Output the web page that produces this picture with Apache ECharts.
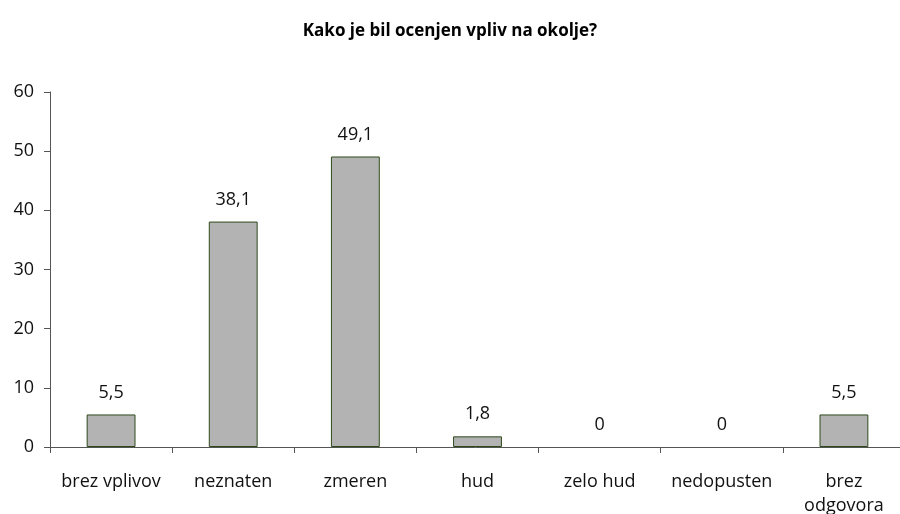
<!DOCTYPE html>
<html><head><meta charset="utf-8">
<script src="https://cdn.jsdelivr.net/npm/echarts@6/dist/echarts.min.js"></script>
<style>html,body{margin:0;padding:0;background:#fff}#c{width:900px;height:514px}</style>
</head><body><div id="c"></div>
<script>
const titleText = 'Kako je bil ocenjen vpliv na okolje?';
const categories = ['brez vplivov','neznaten','zmeren','hud','zelo hud','nedopusten','brez\nodgovora'];
const values = [5.5, 38.1, 49.1, 1.8, 0, 0, 5.5];
const yTicks = {min:0, max:60, interval:10};
const font = '"Open Sans", "DejaVu Sans", sans-serif';
const chart = echarts.init(document.getElementById('c'), null, {renderer:'canvas'});
chart.setOption({
  animation:false,
  title:{text:titleText, left:'center', top:18, textStyle:{fontFamily:font, fontSize:17, fontWeight:'bold', color:'#000'}},
  grid:{left:50, right:-5, top:92, bottom:67, containLabel:false, outerBoundsMode:'none'},
  xAxis:{type:'category', data:categories, z:3,
    axisLine:{lineStyle:{color:'#555', width:1}},
    axisTick:{show:true, length:6, lineStyle:{color:'#555'}},
    axisLabel:{fontFamily:font, fontSize:18, color:'#111', margin:23, lineHeight:24, interval:0}},
  yAxis:{type:'value', min:yTicks.min, max:yTicks.max, interval:yTicks.interval,
    splitLine:{show:false},
    axisLine:{show:true, lineStyle:{color:'#555', width:1}},
    axisTick:{show:true, length:6, lineStyle:{color:'#555'}},
    axisLabel:{fontFamily:font, fontSize:18, color:'#111', margin:16}},
  series:[{type:'bar', barWidth:'40%',
    data: values.map(v => v === 0 ? {value:v, itemStyle:{borderWidth:0, color:'rgba(0,0,0,0)'}} : v),
    itemStyle:{color:'#b3b3b3', borderColor:'#2e4a1a', borderWidth:1},
    label:{show:true, position:'top', distance:13, fontFamily:font, fontSize:18, color:'#111',
      formatter:p=>String(p.value).replace('.',',')}}]
});
</script></body></html>
